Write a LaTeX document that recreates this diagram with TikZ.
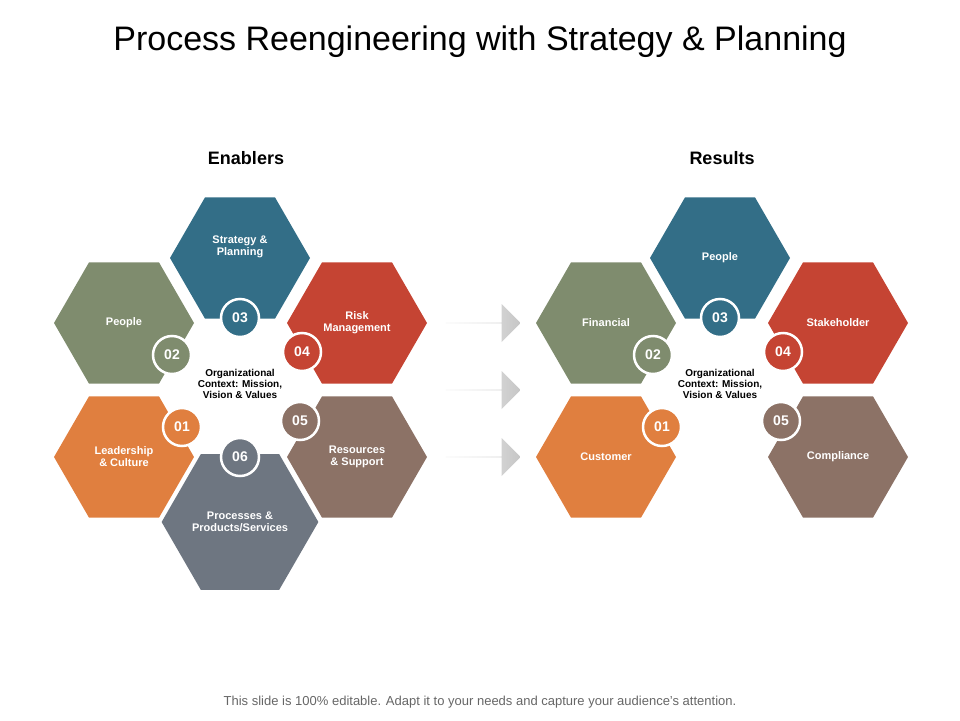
\documentclass[tikz,border=0pt]{standalone}
\usepackage{fontspec}
\setmainfont{Liberation Sans}
\usetikzlibrary{shapes.geometric,shapes.arrows}
\definecolor{hblue}{HTML}{336E87}
\definecolor{hgreen}{HTML}{7F8C6E}
\definecolor{hred}{HTML}{C54433}
\definecolor{horange}{HTML}{E07F3F}
\definecolor{hbrown}{HTML}{8C7266}
\definecolor{hslate}{HTML}{6E7681}
\tikzset{
  hexa/.style={regular polygon, regular polygon sides=6, minimum size=140pt, inner sep=0pt,
    fill=#1, text=white, font=\fontsize{11}{12}\selectfont\bfseries, align=center},
  badge/.style={circle, minimum size=38pt, inner sep=0pt, fill=#1, draw=white, line width=2.5pt,
    text=white, font=\fontsize{14}{14}\selectfont\bfseries},
  ctx/.style={font=\fontsize{10}{11}\selectfont\bfseries, align=center},
  bigarrow/.style={single arrow, minimum width=38pt, single arrow head extend=8pt, minimum height=75pt,
    inner sep=0pt, left color=gray!8, right color=gray!45, draw=none}
}
\begin{document}
\begin{tikzpicture}[x=1pt,y=-1pt]
        \useasboundingbox (0,0) rectangle (960,720);
        % Title
        \node[font=\fontsize{34}{36}\selectfont] (title) at (480,42) {Process Reengineering with Strategy \& Planning};
        \node[font=\fontsize{18}{18}\selectfont\bfseries] (enab) at (246,158) {Enablers};
        \node[font=\fontsize{18}{18}\selectfont\bfseries] (resu) at (722,158) {Results};

        % Enablers
        \node[hexa=hblue] (strat) at (240,258) {Strategy \&\\Planning\\[12pt]};
        \node[hexa=hgreen] (peopleL) at (124,323) {People};
        \node[hexa=hred] (risk) at (357,323) {Risk\\Management};
        \node[hexa=horange] (lead) at (124,457) {Leadership\\\& Culture};
        \node[hexa=hbrown] (reso) at (357,457) {Resources\\\& Support};
        \node[hexa=hslate] (proc) at (240,522) {Processes \&\\Products/Services};
        \node[badge=hblue] (l3) at (240,318) {03};
        \node[badge=hgreen] (l2) at (172,355) {02};
        \node[badge=hred] (l4) at (302,352) {04};
        \node[badge=horange] (l1) at (182,427) {01};
        \node[badge=hbrown] (l5) at (300,421) {05};
        \node[badge=hslate] (l6) at (240,457) {06};
        \node[ctx] (ctxL) at (240,384) {Organizational\\Context: Mission,\\Vision \& Values};

        % Arrows
        \foreach \y/\n in {323/a1,390/a2,457/a3}
          \node[bigarrow] (\n) at (483,\y) {};

        % Results
        \node[hexa=hblue] (peopleR) at (720,258) {People};
        \node[hexa=hgreen] (fin) at (606,323) {Financial};
        \node[hexa=hred] (stake) at (838,323) {Stakeholder};
        \node[hexa=horange] (cust) at (606,457) {Customer};
        \node[hexa=hbrown] (comp) at (838,457) {Compliance};
        \node[badge=hblue] (r3) at (720,318) {03};
        \node[badge=hgreen] (r2) at (653,355) {02};
        \node[badge=hred] (r4) at (783,352) {04};
        \node[badge=horange] (r1) at (662,427) {01};
        \node[badge=hbrown] (r5) at (781,421) {05};
        \node[ctx] (ctxR) at (720,384) {Organizational\\Context: Mission,\\Vision \& Values};

        % Footer
        \node[font=\fontsize{13}{14}\selectfont, text=gray!80!black] (foot) at (480,702) {This slide is 100\% editable. Adapt it to your needs and capture your audience's attention.};
\end{tikzpicture}
\end{document}
